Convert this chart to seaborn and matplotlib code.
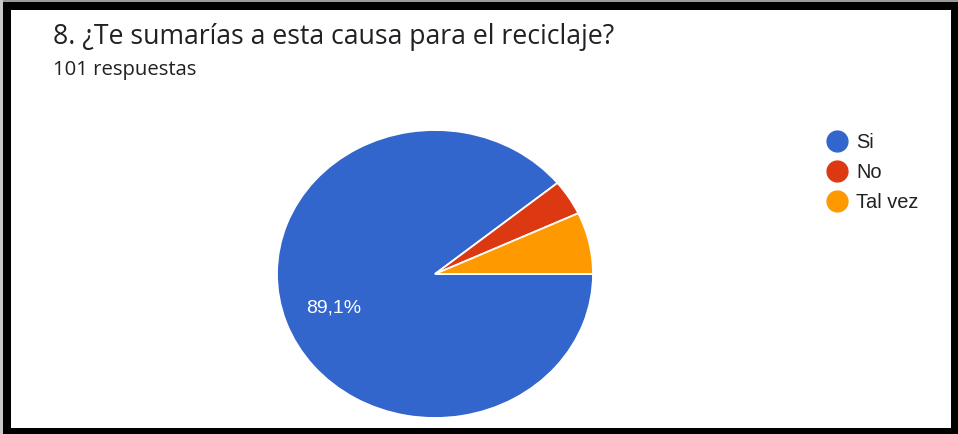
import matplotlib
matplotlib.use("Agg")
import matplotlib.pyplot as plt
from matplotlib.patches import Rectangle
from matplotlib.lines import Line2D
import seaborn as sns

# Survey answers
categories = ["Si", "No", "Tal vez"]
counts = [90, 4, 7]
title = "8. ¿Te sumarías a esta causa para el reciclaje?"
subtitle = "101 respuestas"

sns.set_theme(style="white")
plt.rcParams["font.family"] = ["Open Sans", "DejaVu Sans"]

colors = sns.color_palette(["#3366CC", "#DC3912", "#FF9900"])
arial = ["Liberation Sans", "DejaVu Sans"]

W, H = 958, 434
fig = plt.figure(figsize=(W / 100, H / 100), dpi=100)
fig.patch.set_facecolor("white")

def px(x0, y0, x1, y1):
    """Figure-fraction rectangle from pixel box (top-left origin)."""
    return (x0 / W, 1 - y1 / H, (x1 - x0) / W, (y1 - y0) / H)

# Pie axes (slightly wider than tall)
ax = fig.add_axes(px(277, 130, 593, 418))
total = sum(counts)
wedges, _ = ax.pie(
    counts,
    colors=colors,
    startangle=0,
    counterclock=False,
    radius=1,
    wedgeprops=dict(edgecolor="white", linewidth=1.3),
)
ax.set_xlim(-1, 1)
ax.set_ylim(-1, 1)
ax.set_aspect("auto")
ax.axis("off")

pct = f"{100 * counts[0] / total:.1f}%".replace(".", ",")
ax.text(-0.815, -0.27, pct, color="white", fontsize=14,
        family=arial, ha="left", va="baseline")

# Title block
fig.text(53 / W, 1 - 44.3 / H, title, fontsize=19.2, color="#202124",
         ha="left", va="baseline")
fig.text(53 / W, 1 - 75 / H, subtitle, fontsize=14.6, color="#202124",
         ha="left", va="baseline")

# Legend
handles = [Line2D([0], [0], marker="o", linestyle="", markersize=15,
                  markerfacecolor=c, markeredgecolor=c) for c in colors]
leg = fig.legend(handles, categories, loc="upper left",
                 bbox_to_anchor=(828 / W, 1 - 133 / H),
                 frameon=False, handlelength=0.9,
                 handletextpad=0.5, labelspacing=0.54, borderpad=0,
                 borderaxespad=0,
                 prop=dict(family=arial, size=14.4))
for t in leg.get_texts():
    t.set_color("#202124")

# Frame around the card
frame = [
    (0, 0, W, 1.5, "#9a9a9a"),
    (0, 0, 3, H, "#c8c8c8"),
    (3, 1.5, W, 10, "black"),
    (3, 1.5, 11, H, "black"),
    (951, 1.5, W, H, "black"),
    (3, 428, W, H, "black"),
]
for x0, y0, x1, y1, c in frame:
    l, b, w, h = px(x0, y0, x1, y1)
    fig.add_artist(Rectangle((l, b), w, h, transform=fig.transFigure,
                             facecolor=c, edgecolor="none", zorder=10))

fig.savefig("out.png", dpi=100, facecolor="white")
